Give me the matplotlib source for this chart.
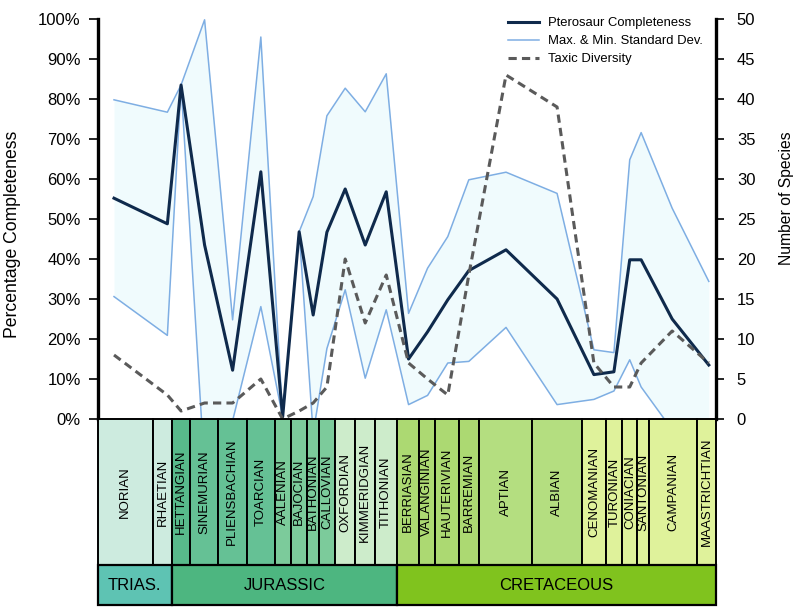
import matplotlib.pyplot as plt
from matplotlib.patches import Rectangle
import numpy as np

# stages (oldest first) and the relative width each one takes on the strip
stages = ['NORIAN', 'RHAETIAN', 'HETTANGIAN', 'SINEMURIAN', 'PLIENSBACHIAN',
          'TOARCIAN', 'AALENIAN', 'BAJOCIAN', 'BATHONIAN', 'CALLOVIAN',
          'OXFORDIAN', 'KIMMERIDGIAN', 'TITHONIAN', 'BERRIASIAN',
          'VALANGINIAN', 'HAUTERIVIAN', 'BARREMIAN', 'APTIAN', 'ALBIAN',
          'CENOMANIAN', 'TURONIAN', 'CONIACIAN', 'SANTONIAN', 'CAMPANIAN',
          'MAASTRICHTIAN']
stage_widths = [55.5, 19, 18, 28, 28.5, 28.5, 16, 16, 12, 16, 20, 20, 22,
                22, 16, 24, 20, 53, 50, 24, 16, 15, 12, 48, 18.5]
stage_colors = ['#cdebdf'] * 2 + ['#58ba8b'] + ['#65c195'] * 3 + \
               ['#7ccb9b'] * 4 + ['#cdeccb'] * 3 + ['#acd972'] * 4 + \
               ['#b4de80'] * 2 + ['#dff29b'] * 6

periods = ['TRIAS.', 'JURASSIC', 'CRETACEOUS']
period_nstages = [2, 11, 12]
period_colors = ['#5ec3b3', '#4db680', '#80c31e']

# sample position along the strip for each stage
sample_x = [16.5, 69.8, 83.5, 107, 135, 163.2, 185, 201.5, 215.5, 229.2,
            247.5, 267.5, 288.5, 310.8, 329.8, 350, 371, 408.2, 459.2,
            496, 516, 531.8, 543.2, 574.2, 610.8]

# percentage completeness and its standard deviation
completeness = [55.2, 48.8, 83.5, 43.5, 12.2, 61.8, 0.5, 46.8, 26, 46.7,
                57.5, 43.5, 56.8, 15, 21.8, 29.8, 37.1, 42.3, 30, 11.1,
                11.8, 39.8, 39.8, 25, 13.5]
std_dev = [24.6, 27.9, 0, 56.3, 12.6, 33.7, 0, 0, 29.6, 29.1, 25.2, 33.3,
           29.5, 11.4, 15.9, 15.8, 22.7, 19.4, 26.4, 6.2, 4.8, 25, 31.8,
           27.7, 20.9]

# number of species
diversity = [8, 3, 1, 2, 2, 5, 0, 1, 2, 4, 20, 12, 18, 7, 5, 3, 18, 43, 39,
             7, 4, 4, 7, 11, 7]


def main():
    plt.rcParams['font.family'] = ['Liberation Sans', 'DejaVu Sans']

    W, H = 800, 614
    fig = plt.figure(figsize=(W / 100, H / 100), dpi=100)

    x = np.array(sample_x)
    comp = np.array(completeness)
    sd = np.array(std_dev)
    edges = np.concatenate([[0], np.cumsum(stage_widths)])

    ax = fig.add_axes([97.5 / W, 1 - 419 / H, 618.5 / W, 400 / H])
    ax.set_xlim(edges[0], edges[-1])
    ax.set_ylim(0, 100)

    ax.fill_between(x, comp - sd, comp + sd, color='#f0fbfd', lw=0, zorder=1)
    ax.plot(x, comp + sd, color='#7eaee3', lw=1.1, zorder=2)
    ax.plot(x, comp - sd, color='#7eaee3', lw=1.1, zorder=2)
    ax.plot(x, comp, color='#0f2a4c', lw=2.2, zorder=4)

    ax2 = ax.twinx()
    ax2.set_ylim(0, 50)
    ax2.plot(x, diversity, color='#5a5a5a', lw=2.2,
             linestyle=(0, (2.7, 1.7)), zorder=3)

    ax.set_yticks(np.arange(0, 101, 10))
    ax.set_yticklabels([f'{v}%' for v in range(0, 101, 10)])
    ax.set_xticks([])
    ax2.set_yticks(np.arange(0, 51, 5))

    ax.tick_params(axis='y', direction='out', length=6.5, width=1.2,
                   labelsize=12, pad=5.5)
    ax2.tick_params(axis='y', direction='out', length=6, width=1.2,
                    labelsize=12, pad=9)

    for a in (ax, ax2):
        for s in ('top', 'bottom'):
            a.spines[s].set_visible(False)
    ax.spines['right'].set_visible(False)
    ax2.spines['left'].set_visible(False)
    ax.spines['left'].set_linewidth(2.4)
    ax2.spines['right'].set_linewidth(2.4)

    # axis titles
    fig.text(13 / W, 1 - 234 / H, 'Percentage Completeness', rotation=90,
             ha='center', va='center', fontsize=12.7)
    fig.text(786 / W, 1 - 198 / H, 'Number of Species', rotation=90,
             ha='center', va='center', fontsize=11.3)

    # legend
    handles = [plt.Line2D([], [], color='#0f2a4c', lw=2.2),
               plt.Line2D([], [], color='#7eaee3', lw=1.1),
               plt.Line2D([], [], color='#5a5a5a', lw=2.2,
                          linestyle=(0, (2.7, 1.7)))]
    labels = ['Pterosaur Completeness', 'Max. & Min. Standard Dev.',
              'Taxic Diversity']
    fig.legend(handles, labels, loc='upper left', frameon=False,
               bbox_to_anchor=(508 / W, 1 - 17 / H), fontsize=9.4,
               handlelength=2.4, handletextpad=0.65, labelspacing=0.45,
               borderpad=0, borderaxespad=0)

    # stratigraphic strip
    strip = fig.add_axes([97.5 / W, 1 - 605 / H, 618.5 / W, 186 / H])
    strip.set_xlim(edges[0], edges[-1])
    strip.set_ylim(0, 186)
    strip.axis('off')

    for i, name in enumerate(stages):
        strip.add_patch(Rectangle((edges[i], 40), stage_widths[i], 146,
                                  facecolor=stage_colors[i],
                                  edgecolor='black', lw=1.4, clip_on=False))
        strip.text((edges[i] + edges[i + 1]) / 2, 40 + 73, name,
                   rotation=90, ha='center', va='center', fontsize=9.5)

    start = 0
    for name, n, col in zip(periods, period_nstages, period_colors):
        x0, x1 = edges[start], edges[start + n]
        strip.add_patch(Rectangle((x0, 0), x1 - x0, 40, facecolor=col,
                                  edgecolor='black', lw=1.6, clip_on=False))
        strip.text((x0 + x1) / 2, 20, name, ha='center', va='center',
                   fontsize=12)
        start += n

    fig.savefig('out.png', dpi=100)


if __name__ == '__main__':
    main()
